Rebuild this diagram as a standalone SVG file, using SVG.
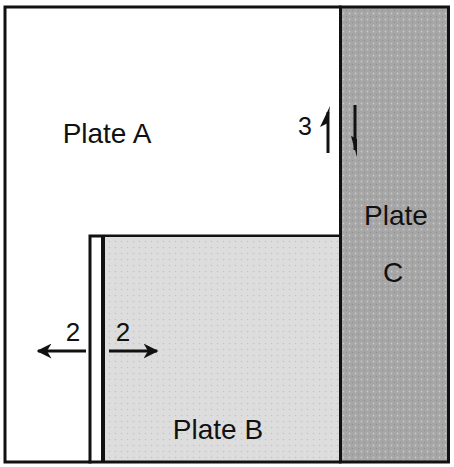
<svg xmlns="http://www.w3.org/2000/svg" width="454" height="467" viewBox="0 0 454 467">
<style>
.lbl{font-family:"Liberation Sans",Arial,sans-serif;fill:#111;text-anchor:middle}
.edge{stroke:#111;fill:none;stroke-linecap:square}
.arr{stroke:#111;stroke-width:3;fill:none}
</style>
<defs>
<pattern id="dotsC" width="6" height="6" patternUnits="userSpaceOnUse">
<rect width="6" height="6" fill="#a6a6a6"/>
<circle cx="1.5" cy="1.5" r="0.9" fill="#c8c8c8"/>
<circle cx="4.5" cy="4.5" r="0.7" fill="#8f8f8f"/>
</pattern>
<pattern id="dotsB" width="6" height="6" patternUnits="userSpaceOnUse">
<rect width="6" height="6" fill="#dddddd"/>
<circle cx="1.5" cy="1.5" r="0.8" fill="#c4c4c4"/>
</pattern>
<marker id="ah" viewBox="0 0 10 10" refX="9" refY="5" markerWidth="5" markerHeight="5" orient="auto" markerUnits="strokeWidth">
<path d="M0,0 L10,5 L0,10 L3,5 Z" fill="#111"/>
</marker>
</defs>
<rect width="454" height="467" fill="#ffffff"/>
<g id="plateA">
<path class="edge" d="M340,7 L5,7 L5,462 L90,462 L90,236 L340,236" stroke-width="3"/>
<text class="lbl" x="107" y="143" font-size="28">Plate A</text>
</g>
<g id="plateB">
<rect x="104" y="237" width="236" height="224" fill="url(#dotsB)"/>
<line class="edge" x1="103" y1="237" x2="103" y2="461" stroke-width="4"/>
<line class="edge" x1="90" y1="462" x2="340" y2="462" stroke-width="3"/>
<text class="lbl" x="218" y="439" font-size="28">Plate B</text>
</g>
<g id="plateC">
<rect x="341" y="8" width="107" height="453" fill="url(#dotsC)"/>
<rect class="edge" x="340.5" y="7" width="108" height="455" stroke-width="3"/>
<text class="lbl" x="396" y="225" font-size="28">Plate</text>
<text class="lbl" x="393" y="282" font-size="28">C</text>
</g>
<g id="connectors">
<line class="arr" x1="328" y1="153" x2="328" y2="112"/>
<polygon points="330,106 320,127 328,123" fill="#111"/>
<line class="arr" x1="355" y1="105" x2="355" y2="150"/>
<polygon points="357,157 351,136 357,139" fill="#111"/>
<line class="arr" x1="86" y1="351" x2="38" y2="351" marker-end="url(#ah)"/>
<line class="arr" x1="109" y1="351" x2="157" y2="351" marker-end="url(#ah)"/>
</g>
<g id="labels">
<text class="lbl" x="305" y="135" font-size="25">3</text>
<text class="lbl" x="73" y="341" font-size="26">2</text>
<text class="lbl" x="123" y="341" font-size="26">2</text>
</g>
</svg>
